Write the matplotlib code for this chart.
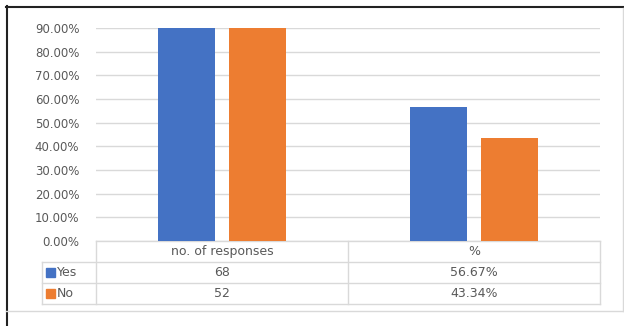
import matplotlib.pyplot as plt
from matplotlib.lines import Line2D
from matplotlib.patches import Rectangle
from matplotlib.ticker import PercentFormatter
import numpy as np

categories = ["no. of responses", "%"]
series_names = ["Yes", "No"]
yes_vals = [68, 0.5667]
no_vals = [52, 0.4334]
table_text = [["68", "56.67%"], ["52", "43.34%"]]
yticks = [0, 0.1, 0.2, 0.3, 0.4, 0.5, 0.6, 0.7, 0.8, 0.9]

blue = "#4472C4"
orange = "#ED7D31"
grid_c = "#D9D9D9"
text_c = "#595959"

W, H = 624, 326
fig = plt.figure(figsize=(W / 100, H / 100), dpi=100)
plt.rcParams["font.family"] = "DejaVu Sans"

# axes box in pixels: x 96..600, y 28..241 (from top)
ax = fig.add_axes([96 / W, (H - 241) / H, 504 / W, 213 / H])
x = np.arange(len(categories))
w = 0.226
off = 0.141
ax.bar(x - off, yes_vals, w, color=blue, zorder=3)
ax.bar(x + off, no_vals, w, color=orange, zorder=3)
ax.set_xlim(-0.5, 1.5)
ax.set_ylim(0, 0.9)
ax.set_yticks(yticks)
ax.yaxis.set_major_formatter(PercentFormatter(1.0, decimals=2))
ax.tick_params(axis="y", length=0, pad=12, labelsize=8.5, labelcolor=text_c)
ax.set_xticks([])
ax.grid(axis="y", color=grid_c, linewidth=1.0, zorder=0)
for s in ax.spines.values():
    s.set_visible(False)

# data table below the axes
row_h = 21 / 213
tr = ax.get_xaxis_transform()
left_col = -0.5 - 54 / 252
nrows = 3
lw = 1.0
for i in range(nrows + 1):
    yy = -i * row_h
    x0 = -0.5 if i == 0 else left_col
    ax.add_line(Line2D([x0, 1.5], [yy, yy], transform=tr, color=grid_c, lw=lw, clip_on=False))
for xv in [-0.5, 0.5, 1.5]:
    ax.add_line(Line2D([xv, xv], [0, -nrows * row_h], transform=tr, color=grid_c, lw=lw, clip_on=False))
ax.add_line(Line2D([left_col, left_col], [-row_h, -nrows * row_h], transform=tr, color=grid_c, lw=lw, clip_on=False))

for j, c in enumerate(categories):
    ax.text(j, -0.5 * row_h, c, transform=tr, ha="center", va="center", fontsize=9, color=text_c)
for i, (name, col) in enumerate(zip(series_names, [blue, orange])):
    yc = -(i + 1.5) * row_h
    ax.add_patch(Rectangle((left_col + 4 / 252, yc - 4.5 / 213), 9 / 252, 9 / 213, transform=tr,
                           color=col, clip_on=False))
    ax.text(left_col + 15 / 252, yc, name, transform=tr, ha="left", va="center", fontsize=9, color=text_c)
    for j in range(len(categories)):
        ax.text(j, yc, table_text[i][j], transform=tr, ha="center", va="center", fontsize=9, color=text_c)

# frame lines
def fline(x0, y0, x1, y1, c, lw):
    fig.add_artist(Line2D([x0 / W, x1 / W], [1 - y0 / H, 1 - y1 / H], color=c, lw=lw))

fline(6, 6.5, W, 6.5, "#222222", 1.5)
fline(6.5, 6, 6.5, H, "#222222", 1.5)
fline(6, 311, W, 311, grid_c, 1.0)
fline(622.5, 8, 622.5, 311, grid_c, 1.0)

fig.savefig("out.png", dpi=100)
